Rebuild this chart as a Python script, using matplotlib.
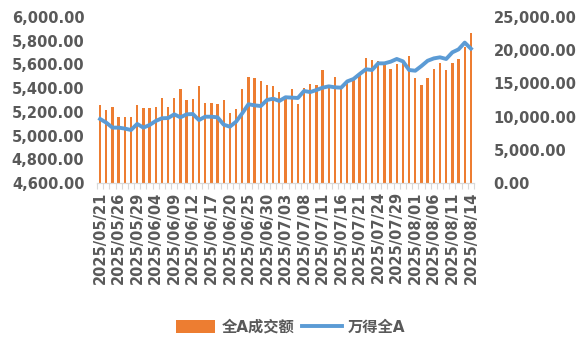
import matplotlib.pyplot as plt
from matplotlib.ticker import FuncFormatter, FixedLocator
import numpy as np

# trading days 2025/05/21 - 2025/08/14
dates = ['2025/05/21', '2025/05/22', '2025/05/23', '2025/05/26', '2025/05/27', '2025/05/28',
         '2025/05/29', '2025/05/30', '2025/06/03', '2025/06/04', '2025/06/05', '2025/06/06',
         '2025/06/09', '2025/06/10', '2025/06/11', '2025/06/12', '2025/06/13', '2025/06/16',
         '2025/06/17', '2025/06/18', '2025/06/19', '2025/06/20', '2025/06/23', '2025/06/24',
         '2025/06/25', '2025/06/26', '2025/06/27', '2025/06/30', '2025/07/01', '2025/07/02',
         '2025/07/03', '2025/07/04', '2025/07/07', '2025/07/08', '2025/07/09', '2025/07/10',
         '2025/07/11', '2025/07/14', '2025/07/15', '2025/07/16', '2025/07/17', '2025/07/18',
         '2025/07/21', '2025/07/22', '2025/07/23', '2025/07/24', '2025/07/25', '2025/07/28',
         '2025/07/29', '2025/07/30', '2025/07/31', '2025/08/01', '2025/08/04', '2025/08/05',
         '2025/08/06', '2025/08/07', '2025/08/08', '2025/08/11', '2025/08/12', '2025/08/13',
         '2025/08/14']

# 全A成交额 (right axis)
turnover = [11750, 11000, 11450, 9950, 9950, 9950, 11750, 11300, 11300, 11450,
            12800, 11450, 12800, 14150, 12500, 12650, 14600, 12050, 12050, 11900,
            12500, 10550, 11150, 14150, 15950, 15800, 15350, 14750, 14600, 13700,
            12800, 14150, 11900, 14300, 14900, 14750, 17000, 14600, 15950, 14300,
            15050, 15500, 16250, 18800, 18500, 18350, 17750, 17150, 17900, 18400,
            19150, 15800, 14750, 15800, 17150, 18050, 17000, 18050, 18650, 20450,
            22600]

# 万得全A (left axis)
index_vals = [5140, 5109, 5067, 5067, 5059, 5047, 5098, 5067, 5089, 5123,
              5146, 5148, 5179, 5154, 5179, 5182, 5131, 5159, 5159, 5154,
              5092, 5075, 5117, 5188, 5264, 5255, 5249, 5300, 5311, 5292,
              5323, 5320, 5317, 5376, 5367, 5384, 5404, 5415, 5407, 5404,
              5457, 5477, 5519, 5559, 5553, 5609, 5609, 5623, 5646, 5626,
              5553, 5547, 5587, 5631, 5651, 5660, 5646, 5702, 5727, 5784,
              5733]

grey = '#595959'
plt.rcParams['font.family'] = ['DejaVu Sans', 'Noto Sans CJK SC']
plt.rcParams['font.weight'] = 'bold'

fig = plt.figure(figsize=(5.81, 3.56), dpi=100)
ax = fig.add_axes([97 / 581, 1 - 183 / 356, 377 / 581, 166 / 356])
ax2 = ax.twinx()

x = np.arange(len(dates))
bars = ax2.bar(x, turnover, width=0.38, color='#ED7D31', label='全A成交额')
line, = ax.plot(x, index_vals, color='#5B9BD5', lw=2.8, label='万得全A')

ax.set_zorder(ax2.get_zorder() + 1)
ax.patch.set_visible(False)

ax.set_xlim(-0.5, len(dates) - 0.5)
ax.set_ylim(4600, 6000)
ax.set_yticks(np.arange(4600, 6001, 200))
ax2.set_ylim(0, 25000)
ax2.set_yticks(np.arange(0, 25001, 5000))

fmt = FuncFormatter(lambda v, p: '{:,.2f}'.format(v))
ax.yaxis.set_major_formatter(fmt)
ax2.yaxis.set_major_formatter(fmt)

ax.set_xticks(x[::3])
ax.set_xticklabels(dates[::3], rotation=90)
ax.xaxis.set_minor_locator(FixedLocator(np.arange(-0.5, len(dates), 1)))
ax.tick_params(axis='x', which='major', length=0, pad=6, labelsize=10.5, labelcolor=grey)
ax.tick_params(axis='x', which='minor', length=4, color='#D9D9D9', width=0.8)
ax.tick_params(axis='y', length=0, pad=9, labelsize=10.5, labelcolor=grey)
ax2.tick_params(axis='y', length=0, pad=14, labelsize=10.5, labelcolor=grey)

for a in (ax, ax2):
    for s in ['top', 'left', 'right']:
        a.spines[s].set_visible(False)
    a.spines['bottom'].set_color('#D9D9D9')

fig.legend([bars, line], ['全A成交额', '万得全A'], loc='center', bbox_to_anchor=(0.5, 1 - 327 / 356),
           ncol=2, frameon=False, fontsize=11, handlelength=2.6, handleheight=0.9,
           columnspacing=0.5, handletextpad=0.4, labelcolor=grey,
           prop={'weight': 'bold', 'size': 11})

fig.savefig('out.png', dpi=100)
